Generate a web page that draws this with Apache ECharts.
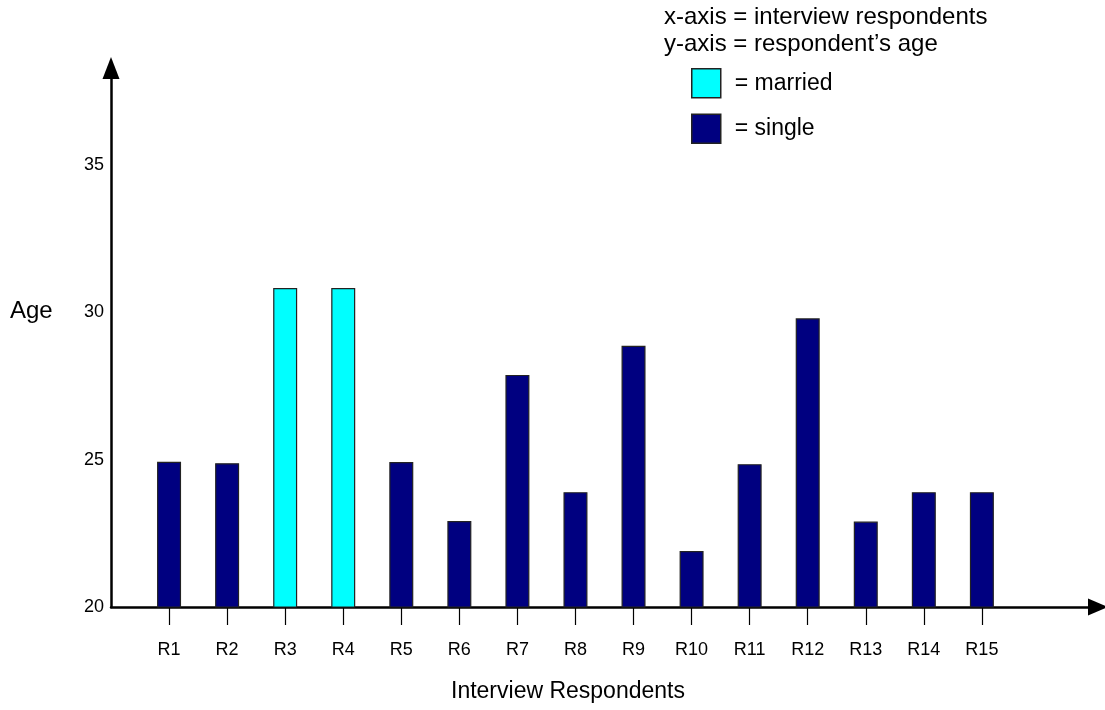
<!DOCTYPE html>
<html>
<head>
<meta charset="utf-8">
<script src="https://cdn.jsdelivr.net/npm/echarts@6/dist/echarts.min.js"></script>
<style>
html,body{margin:0;padding:0;background:#fff;}
#chart{width:1105px;height:710px;}
</style>
</head>
<body>
<div id="chart"></div>
<script>
const categories = ['R1','R2','R3','R4','R5','R6','R7','R8','R9','R10','R11','R12','R13','R14','R15'];
const ages = [24.93, 24.88, 30.83, 30.83, 24.92, 22.92, 27.88, 23.9, 28.87, 21.9, 24.85, 29.8, 22.9, 23.9, 23.9];
const status = ['single','single','married','married','single','single','single','single','single','single','single','single','single','single','single'];
const yTicks = [20, 25, 30, 35];
const headerLines = ['x-axis = interview respondents', 'y-axis = respondent\u2019s age'];

const font = 'Liberation Sans, Arial, sans-serif';
const padCats = [''].concat(categories, ['', '']);
function seriesData(kind) {
  return [null].concat(ages.map((v, i) => status[i] === kind ? v : null), [null, null]);
}

const chart = echarts.init(document.getElementById('chart'));
chart.setOption({
  backgroundColor: '#fff',
  animation: false,
  textStyle: { fontFamily: font, color: '#000' },
  grid: { left: 111, right: 7, top: 68, bottom: 103, containLabel: false },
  legend: {
    data: ['married', 'single'],
    orient: 'vertical',
    left: 691, top: 68, padding: 0,
    itemWidth: 29, itemHeight: 29, itemGap: 15,
    icon: 'rect',
    formatter: '= {name}',
    itemStyle: { borderColor: '#222', borderWidth: 1.5 },
    textStyle: { fontFamily: font, fontSize: 23, lineHeight: 29, color: '#000', padding: [0, 0, 0, 9] }
  },
  xAxis: {
    type: 'category',
    data: padCats,
    boundaryGap: false,
    axisLine: { lineStyle: { color: '#000', width: 2.5 }, symbol: ['none', 'triangle'], symbolSize: [17, 20] },
    axisTick: { show: true, inside: false, length: 18, interval: (i, v) => v !== '', lineStyle: { color: '#000', width: 1.2 } },
    axisLabel: { interval: (i, v) => v !== '', fontFamily: font, fontSize: 18, color: '#000', margin: 34 },
    splitLine: { show: false }
  },
  yAxis: {
    type: 'value',
    min: 20, max: 38.3, interval: 5,
    axisLine: { show: true, lineStyle: { color: '#000', width: 2.5 }, symbol: ['none', 'triangle'], symbolSize: [17, 22] },
    axisTick: { show: false },
    axisLabel: { fontFamily: font, fontSize: 18, color: '#000', margin: 7, formatter: v => yTicks.indexOf(v) >= 0 ? String(v) : '' },
    splitLine: { show: false }
  },
  series: [
    { name: 'married', type: 'bar', data: seriesData('married'), barWidth: 24, barGap: '-100%',
      itemStyle: { color: '#00FFFF', borderColor: '#222', borderWidth: 1.2 } },
    { name: 'single', type: 'bar', data: seriesData('single'), barWidth: 24, barGap: '-100%',
      itemStyle: { color: '#000080', borderColor: '#222', borderWidth: 1.2 } }
  ],
  graphic: [
    { type: 'text', left: 664, top: 5, style: { text: headerLines[0], font: '24px ' + font, fill: '#000' } },
    { type: 'text', left: 664, top: 32, style: { text: headerLines[1], font: '24px ' + font, fill: '#000' } },
    { type: 'text', left: 10, top: 299, style: { text: 'Age', font: '24px ' + font, fill: '#000' } },
    { type: 'text', left: 451, top: 680, style: { text: 'Interview Respondents', font: '23px ' + font, fill: '#000' } }
  ]
});
</script>
</body>
</html>
